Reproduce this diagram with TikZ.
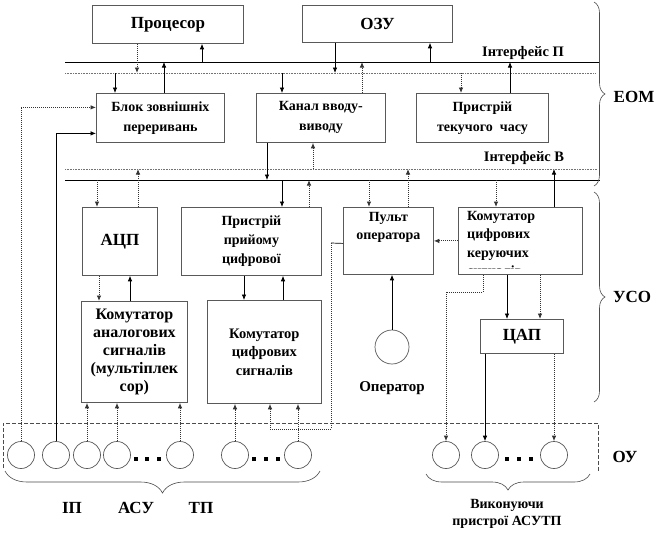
\documentclass[tikz,border=0pt]{standalone}
\usepackage{fontspec}
\setmainfont{Liberation Serif}
\usetikzlibrary{arrows.meta,decorations.pathreplacing}
\begin{document}
\begin{tikzpicture}[x=1pt,y=-1pt,
  fs/.style 2 args={font=\bfseries\fontsize{#1}{#2}\selectfont},
  box/.style={draw=black!65,line width=0.8pt,inner sep=0pt,anchor=north west,align=center},
  circ/.style={circle,draw=black!65,line width=0.7pt,minimum size=27pt,inner sep=0pt},
  arr/.style={-{Latex[length=5.5pt,width=4.5pt]}},
  sl/.style={line width=0.7pt,black},
  dl/.style={line width=0.9pt,black!80,dash pattern=on 1pt off 1pt},
  bus/.style={line width=0.9pt,black},
  busd/.style={line width=1pt,black!55,dash pattern=on 1pt off 0.6pt},
  lab/.style={inner sep=0pt,align=center},
  brc/.style={decorate,decoration={brace,amplitude=#1},line width=0.6pt,black!70},
  frm/.style={line width=0.7pt,black!70,dash pattern=on 4pt off 2pt},
]
\useasboundingbox (0,0) rectangle (671,538);
\fill[white] (0,0) rectangle (671,538);

% buses
\coordinate (PsA) at (65,62);  \coordinate (PsB) at (600,62);
\coordinate (PdA) at (65,73);  \coordinate (PdB) at (596,73);
\coordinate (VdA) at (65,169); \coordinate (VdB) at (597,169);
\coordinate (VsA) at (65,180); \coordinate (VsB) at (600,180);
\draw[bus] (PsA) -- (PsB);
\draw[busd] (PdA) -- (PdB);
\draw[busd] (VdA) -- (VdB);
\draw[bus] (VsA) -- (VsB);
\node[lab,fs={14.5}{16}] (ip) at (523,53) {Інтерфейс П};
\node[lab,fs={14.5}{16}] (ib) at (524,158) {Інтерфейс В};

% EOM blocks
\node[box,fs={17}{20},minimum width=151pt,minimum height=38pt] (proc) at (92,5) {Процесор};
\node[box,fs={17}{20},minimum width=150pt,minimum height=37pt] (ozu) at (302,5) {ОЗУ};
\node[box,fs={14}{20},minimum width=128pt,minimum height=49pt] (blk) at (96,93) {Блок зовнішніх\\переривань};
\node[box,fs={14}{20},minimum width=129pt,minimum height=49pt] (kan) at (256,93) {Канал вводу-\\виводу};
\node[box,fs={14}{20},minimum width=132pt,minimum height=49pt] (clk) at (416,93) {Пристрій\\текучого~~часу};

% USO blocks
\node[box,fs={17}{20},minimum width=75pt,minimum height=68pt] (adc) at (82,207) {АЦП};
\node[box,fs={14}{19},minimum width=140pt,minimum height=68pt] (prm) at (181,207) {Пристрій\\прийому\\цифрової};
\node[box,minimum width=90pt,minimum height=67pt,
  label={[anchor=north,inner sep=0pt,yshift=-5pt,align=center,fs={14}{18}]north:Пульт\\оператора}] (pult) at (343,207) {};
\node[box,minimum width=124pt,minimum height=67pt] (kck) at (458,207) {};
\begin{scope}
\clip (458,207) rectangle (583,268);
\node[lab,anchor=north west,align=left,fs={14}{18.5}] (kckt) at (467,211) {Комутатор\\цифрових\\керуючих\\сигналів};
\end{scope}
\node[box,fs={16}{18},minimum width=106pt,minimum height=101pt] (kma) at (81,301) {Комутатор\\аналогових\\сигналів\\(мультіплек\\сор)};
\node[box,fs={14.5}{18.5},minimum width=114pt,minimum height=103pt] (kcs) at (207,300) {Комутатор\\цифрових\\сигналів};
\node[box,fs={17}{20},minimum width=83pt,minimum height=34pt] (cap) at (480,319) {ЦАП};
\node[circ,minimum size=34pt] (op) at (392,347) {};
\node[lab,fs={15}{16}] (opl) at (392,388) {Оператор};

% OU objects
\foreach \n/\x in {1/21,2/56,3/87,4/117,5/180,6/235,7/298}
  \node[circ] (c\n) at (\x,455) {};
\foreach \n/\x in {1/446,2/485,3/554}
  \node[circ] (a\n) at (\x,455) {};
\foreach \x in {136,147,159,254,266,278,507,519,531}
  \fill (\x-1.6,457.4) rectangle (\x+1.6,460.6);

% OU frame and braces
\draw[frm] (3,468) -- (3,423) -- (598,423) -- (598,472);
\draw[brc=22pt] (320,471) -- (5,471);
\draw[brc=16pt] (590,474) -- (426,474);
\draw[brc=11pt] (594,2) -- (594,186);
\draw[brc=11pt] (594,192) -- (594,402);
\node[lab,fs={17}{20}] (eom) at (634,97) {ЕОМ};
\node[lab,fs={17}{20}] (uso) at (632,297) {УСО};
\node[lab,fs={17}{20}] (ou) at (625,457) {ОУ};
\node[lab,fs={17}{20}] (t1) at (72,508) {ІП};
\node[lab,fs={17}{20}] (t2) at (136,508) {АСУ};
\node[lab,fs={17}{20}] (t3) at (201,508) {ТП};
\node[lab,fs={14}{17}] (vyk) at (507,514) {Виконуючи\\пристрої АСУТП};

% connectors: Interface P
\draw[dl,arr] (137,0 |- proc.south) -- (137,0 |- PdA);
\draw[sl,arr] (202,0 |- PsA) -- (202,0 |- proc.south);
\draw[sl,arr] (335,0 |- ozu.south) -- (335,0 |- PdA);
\draw[sl,arr] (430,0 |- PsA) -- (430,0 |- ozu.south);
\draw[sl,arr] (115,0 |- PdA) -- (115,0 |- blk.north);
\draw[sl,arr] (164,0 |- blk.north) -- (164,0 |- PsA);
\draw[sl,arr] (282,0 |- PdA) -- (282,0 |- kan.north);
\draw[dl,arr] (362,0 |- kan.north) -- (362,0 |- PsA);
\draw[dl,arr] (461,0 |- PdA) -- (461,0 |- clk.north);
\draw[sl,arr] (510,0 |- clk.north) -- (510,0 |- PsA);

% connectors: Interface B
\draw[sl,arr] (267,0 |- kan.south) -- (267,0 |- VsA);
\draw[dl,arr] (313,0 |- VdA) -- (313,0 |- kan.south);
\draw[dl,arr] (97,0 |- VsA) -- (97,0 |- adc.north);
\draw[dl,arr] (138,0 |- adc.north) -- (138,0 |- VdA);
\draw[sl,arr] (282,0 |- VsA) -- (282,0 |- prm.north);
\draw[dl,arr] (309,0 |- prm.north) -- (309,0 |- VsA);
\draw[dl,arr] (369,0 |- VsA) -- (369,0 |- pult.north);
\draw[dl,arr] (408,0 |- pult.north) -- (408,0 |- VdA);
\draw[dl,arr] (496,0 |- VsA) -- (496,0 |- kck.north);
\draw[sl,arr] (554,0 |- kck.north) -- (554,0 |- VdA);

% connectors: USO internal
\draw[dl,arr] (99,0 |- adc.south) -- (99,0 |- kma.north);
\draw[sl,arr] (130,0 |- kma.north) -- (130,0 |- adc.south);
\draw[sl,arr] (244,0 |- prm.south) -- (244,0 |- kcs.north);
\draw[sl,arr] (283,0 |- kcs.north) -- (283,0 |- prm.south);
\draw[dl,arr] (kck.west) -- (kck.west -| pult.east);
\draw[sl,arr] (op.north) -- (op.north |- pult.south);
\draw[sl,arr] (507,0 |- kck.south) -- (507,0 |- cap.north);
\draw[dl,arr] (540,0 |- kck.south) -- (540,0 |- cap.north);

% connectors: to/from objects
\draw[dl,arr] (c1.north) |- ([yshift=10.5pt]blk.west);
\draw[sl,arr] (c2.north) |- ([yshift=-15.5pt]blk.west);
\foreach \n in {3,4,5} \draw[dl,arr] (c\n.north) -- (c\n.north |- kma.south);
\foreach \n in {6,7} \draw[dl,arr] (c\n.north) -- (c\n.north |- kcs.south);
\coordinate (pj) at (331,243);
\draw[sl] ([yshift=-2.5pt]pult.west) -- (pj);
\draw[dl,arr] (pj) -- (331,429) -| (270,0 |- kcs.south);
\draw[dl,arr] (483,0 |- kck.south) -- (483,292) -| (a1.north);
\draw[sl,arr] (a2.north |- cap.south) -- (a2.north);
\draw[dl,arr] (a3.north |- cap.south) -- (a3.north);
\end{tikzpicture}
\end{document}
